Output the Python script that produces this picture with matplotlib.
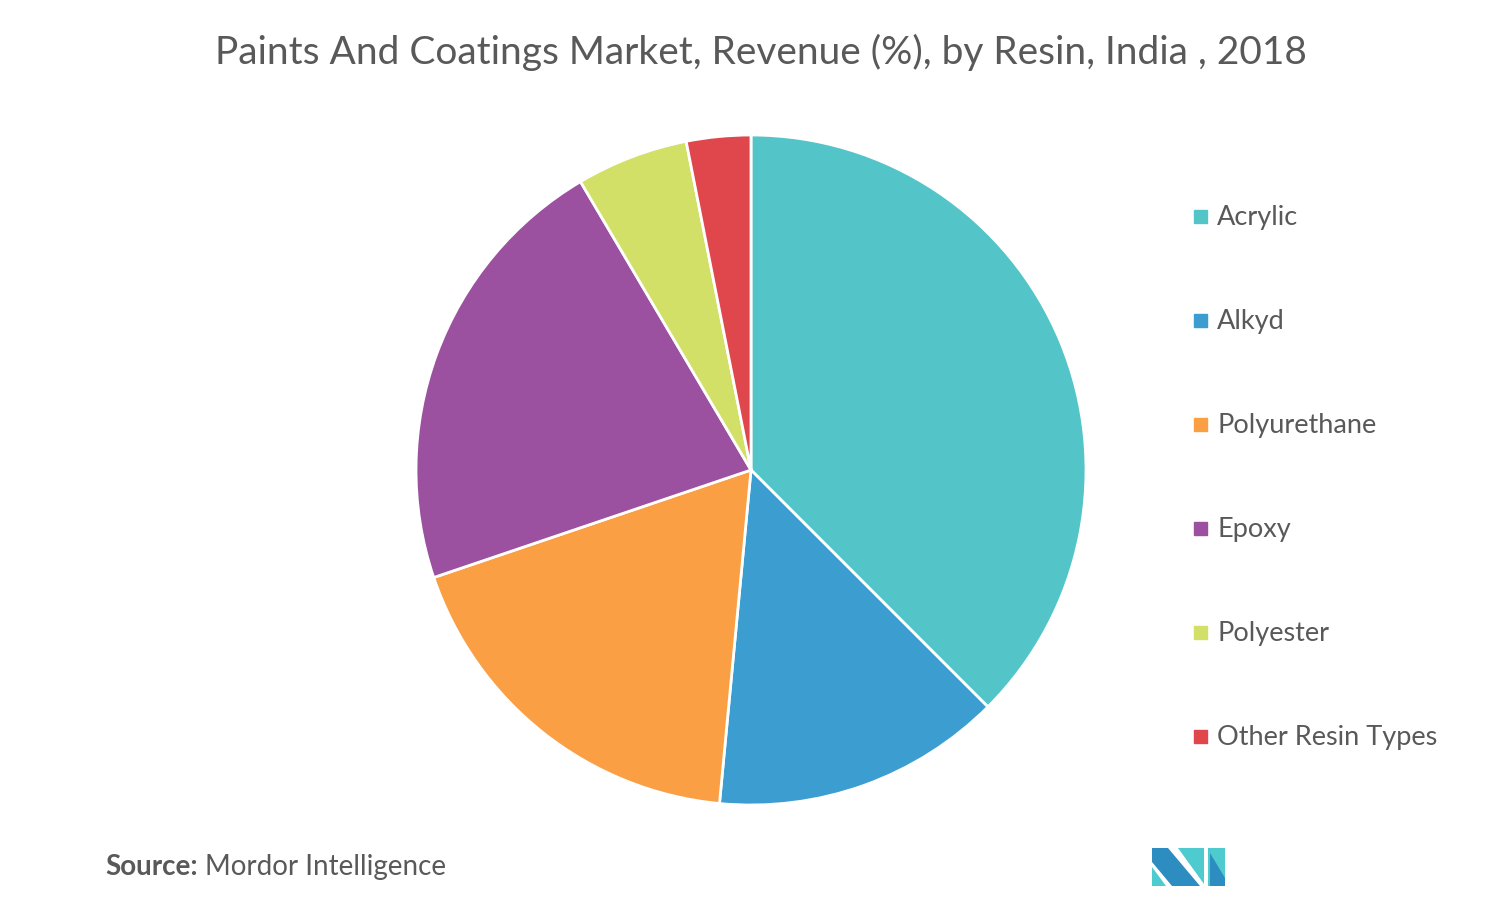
import numpy as np
import matplotlib.pyplot as plt
from matplotlib.patches import Rectangle, Polygon

plt.rcParams['font.family'] = ['Lato', 'DejaVu Sans']

# data
labels = ['Acrylic', 'Alkyd', 'Polyurethane', 'Epoxy', 'Polyester', 'Other Resin Types']
shares = [37.5, 14.0, 18.3, 21.7, 5.4, 3.1]
colors = ['#53C4C7', '#3C9DD0', '#FB9F44', '#9B51A0', '#D2E068', '#E0474C']

W, H = 1489, 902
fig = plt.figure(figsize=(W / 100, H / 100), dpi=100)

# pie: centre (751, 470), radius 335 px
cx, cy, r = 751, 470, 335
ax = fig.add_axes([(cx - r) / W, (H - cy - r) / H, 2 * r / W, 2 * r / H])
ax.pie(shares, colors=colors, startangle=90, counterclock=False, radius=1,
       wedgeprops=dict(edgecolor='white', linewidth=2))
ax.set_xlim(-1, 1)
ax.set_ylim(-1, 1)
ax.set_aspect('equal')
ax.axis('off')

# title
fig.text(761 / W, 1 - 52 / H, 'Paints And Coatings Market, Revenue (%), by Resin, India , 2018',
         ha='center', va='center', fontsize=28, color='#595959')

# legend
for i, (lab, col) in enumerate(zip(labels, colors)):
    y = 216 + i * 104
    fig.patches.append(Rectangle((1194 / W, 1 - (y + 7) / H), 13 / W, 13 / H,
                                 transform=fig.transFigure, color=col))
    fig.text(1217 / W, 1 - (y + 1) / H, lab, ha='left', va='center', fontsize=19.5, color='#595959')

# source
t = fig.text(105 / W, 1 - 867 / H, 'Source:', ha='left', va='center',
             fontsize=20, fontweight='bold', color='#595959')
fig.canvas.draw()
bb = t.get_window_extent()
fig.text((bb.x1 + 7) / W, 1 - 867 / H, 'Mordor Intelligence', ha='left', va='center',
         fontsize=20, color='#595959')

# logo
def px(pts):
    return [(x / W, 1 - y / H) for x, y in pts]

logo = [
    ([(1152, 848), (1168, 848), (1200, 886), (1172, 886), (1152, 862)], '#2E8DC0'),
    ([(1152, 867), (1166, 886), (1152, 886)], '#4DCBCE'),
    ([(1178, 848), (1204, 848), (1204, 884)], '#4DCBCE'),
    ([(1208, 848), (1225, 848), (1225, 886), (1208, 886)], '#4DCBCE'),
    ([(1210, 853), (1225, 878), (1225, 886), (1210, 886)], '#2E8DC0'),
]
for pts, col in logo:
    fig.patches.append(Polygon(px(pts), closed=True, transform=fig.transFigure,
                               facecolor=col, edgecolor='none'))

fig.savefig('out.png', dpi=100, facecolor='white')
